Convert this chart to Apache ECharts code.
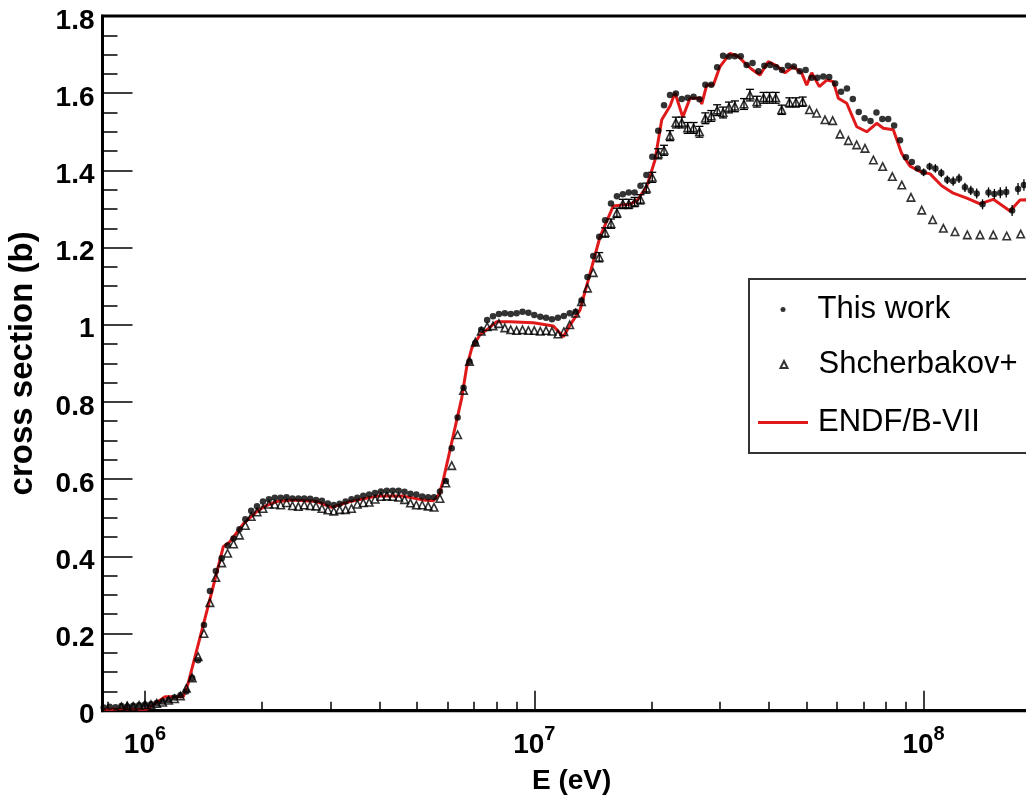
<!DOCTYPE html>
<html>
<head>
<meta charset="utf-8">
<script src="https://cdn.jsdelivr.net/npm/echarts@6/dist/echarts.min.js"></script>
<style>
  html, body { margin: 0; padding: 0; background: #fff; }
  #chart { width: 1026px; height: 798px; }
</style>
</head>
<body>
<div id="chart"></div>
<script>
// "This work" points, energy in eV and cross section in b
const thisWorkE = [
  7.833e5, 8.111e5, 8.399e5, 8.697e5, 9.006e5, 9.326e5, 9.657e5,
  1.000e6, 1.036e6, 1.072e6, 1.110e6, 1.150e6, 1.191e6, 1.233e6, 1.277e6, 1.322e6, 1.369e6,
  1.417e6, 1.468e6, 1.520e6, 1.574e6, 1.630e6, 1.688e6, 1.748e6, 1.810e6, 1.874e6, 1.940e6,
  2.009e6, 2.081e6, 2.154e6, 2.231e6, 2.310e6, 2.392e6, 2.477e6, 2.565e6, 2.656e6, 2.750e6,
  2.848e6, 2.949e6, 3.054e6, 3.162e6, 3.275e6, 3.391e6, 3.511e6, 3.636e6, 3.765e6, 3.899e6,
  4.037e6, 4.180e6, 4.329e6, 4.482e6, 4.642e6, 4.806e6, 4.977e6, 5.154e6, 5.337e6, 5.526e6,
  5.722e6, 5.925e6, 6.136e6, 6.354e6, 6.579e6, 6.813e6, 7.055e6, 7.305e6, 7.565e6, 7.833e6,
  8.111e6, 8.399e6, 8.697e6, 9.006e6, 9.326e6, 9.657e6,
  1.000e7, 1.036e7, 1.072e7, 1.110e7, 1.150e7, 1.191e7, 1.233e7, 1.277e7, 1.322e7, 1.369e7,
  1.417e7, 1.468e7, 1.520e7, 1.574e7, 1.630e7, 1.688e7, 1.748e7, 1.810e7, 1.874e7, 1.940e7,
  2.009e7, 2.081e7, 2.154e7, 2.231e7, 2.310e7, 2.392e7, 2.477e7, 2.565e7, 2.656e7, 2.750e7,
  2.848e7, 2.949e7, 3.054e7, 3.162e7, 3.275e7, 3.391e7, 3.511e7, 3.636e7, 3.765e7, 3.899e7,
  4.037e7, 4.180e7, 4.329e7, 4.482e7, 4.642e7, 4.806e7, 4.977e7, 5.154e7, 5.337e7, 5.526e7,
  5.722e7, 5.925e7, 6.136e7, 6.354e7, 6.579e7, 6.813e7, 7.055e7, 7.305e7, 7.565e7, 7.833e7,
  8.111e7, 8.399e7, 8.697e7, 9.006e7, 9.326e7, 9.657e7,
  1.000e8, 1.036e8, 1.072e8, 1.110e8, 1.150e8, 1.191e8, 1.233e8, 1.277e8, 1.322e8, 1.369e8,
  1.417e8, 1.468e8, 1.520e8, 1.574e8, 1.630e8, 1.688e8, 1.748e8, 1.810e8
];
const thisWorkXS = [
  0.008, 0.010, 0.009, 0.012, 0.011, 0.013, 0.014,
  0.016, 0.017, 0.020, 0.024, 0.028, 0.034, 0.040, 0.050, 0.085, 0.131,
  0.222, 0.310, 0.362, 0.395, 0.428, 0.446, 0.470, 0.496, 0.518, 0.530,
  0.542, 0.548, 0.552, 0.552, 0.553, 0.550, 0.550, 0.550, 0.549, 0.546,
  0.544, 0.537, 0.533, 0.536, 0.542, 0.548, 0.552, 0.557, 0.560, 0.564,
  0.568, 0.570, 0.570, 0.570, 0.567, 0.562, 0.560, 0.555, 0.553, 0.553,
  0.568, 0.595, 0.680, 0.760, 0.837, 0.905, 0.953, 0.987, 1.012, 1.022,
  1.028, 1.030, 1.028, 1.030, 1.034, 1.031,
  1.025, 1.021, 1.018, 1.014, 1.018, 1.023, 1.030, 1.034, 1.063, 1.124,
  1.178, 1.228, 1.271, 1.314, 1.333, 1.338, 1.343, 1.343, 1.360, 1.388,
  1.435, 1.503, 1.569, 1.595, 1.599, 1.585, 1.588, 1.591, 1.584, 1.622,
  1.622, 1.667, 1.697, 1.695, 1.696, 1.696, 1.673, 1.678, 1.657, 1.671,
  1.673, 1.667, 1.660, 1.671, 1.669, 1.657, 1.660, 1.640, 1.640, 1.643,
  1.642, 1.625, 1.604, 1.612, 1.585, 1.551, 1.535, 1.528, 1.550, 1.533,
  1.533, 1.516, 1.478, 1.434, 1.422, 1.405,
  1.395, 1.410, 1.405, 1.393, 1.376, 1.372, 1.379, 1.356, 1.348, 1.340,
  1.312, 1.343, 1.339, 1.342, 1.344, 1.296, 1.352, 1.362
];
// error bars of "This work" that are large enough to be seen (above 100 MeV)
const thisWorkErrE = [
  1.000e8, 1.036e8, 1.072e8, 1.110e8, 1.150e8, 1.191e8, 1.233e8, 1.277e8, 1.322e8, 1.369e8,
  1.417e8, 1.468e8, 1.520e8, 1.574e8, 1.630e8, 1.688e8, 1.748e8, 1.810e8
];
const thisWorkErrXS = [
  1.395, 1.410, 1.405, 1.393, 1.376, 1.372, 1.379, 1.356, 1.348, 1.340,
  1.312, 1.343, 1.339, 1.342, 1.344, 1.296, 1.352, 1.362
];
const thisWorkErr = [
  0.010, 0.010, 0.011, 0.011, 0.011, 0.012, 0.012, 0.012, 0.012, 0.013,
  0.013, 0.013, 0.013, 0.014, 0.014, 0.014, 0.015, 0.015
];

// Shcherbakov+ points
const shchE = [
  8.697e5, 9.006e5, 9.326e5, 9.657e5,
  1.000e6, 1.036e6, 1.072e6, 1.110e6, 1.150e6, 1.191e6, 1.233e6, 1.277e6, 1.322e6, 1.369e6,
  1.417e6, 1.468e6, 1.520e6, 1.574e6, 1.630e6, 1.688e6, 1.748e6, 1.810e6, 1.874e6, 1.940e6,
  2.009e6, 2.081e6, 2.154e6, 2.231e6, 2.310e6, 2.392e6, 2.477e6, 2.565e6, 2.656e6, 2.750e6,
  2.848e6, 2.949e6, 3.054e6, 3.162e6, 3.275e6, 3.391e6, 3.511e6, 3.636e6, 3.765e6, 3.899e6,
  4.037e6, 4.180e6, 4.329e6, 4.482e6, 4.642e6, 4.806e6, 4.977e6, 5.154e6, 5.337e6, 5.526e6,
  5.722e6, 5.925e6, 6.136e6, 6.354e6, 6.579e6, 6.813e6, 7.055e6, 7.305e6, 7.565e6, 7.833e6,
  8.111e6, 8.399e6, 8.697e6, 9.006e6, 9.326e6, 9.657e6,
  1.000e7, 1.036e7, 1.072e7, 1.110e7, 1.150e7, 1.191e7, 1.233e7, 1.277e7, 1.322e7, 1.369e7,
  1.417e7, 1.468e7, 1.520e7, 1.574e7, 1.630e7, 1.688e7, 1.748e7, 1.810e7, 1.874e7, 1.940e7,
  2.009e7, 2.081e7, 2.154e7, 2.231e7, 2.310e7, 2.392e7, 2.477e7, 2.565e7, 2.656e7, 2.750e7,
  2.848e7, 2.949e7, 3.054e7, 3.162e7, 3.275e7,
  3.456e7, 3.58e7, 3.73e7, 3.88e7, 4.02e7, 4.17e7, 4.32e7, 4.52e7, 4.70e7, 4.89e7,
  5.09e7, 5.31e7, 5.58e7, 5.84e7, 6.10e7, 6.41e7, 6.73e7, 7.07e7, 7.43e7, 7.85e7,
  8.31e7, 8.79e7, 9.28e7, 9.89e7, 1.055e8, 1.124e8, 1.204e8, 1.295e8, 1.396e8, 1.51e8,
  1.635e8, 1.776e8
];
const shchXS = [
  0.010, 0.012, 0.011, 0.014,
  0.015, 0.016, 0.019, 0.022, 0.027, 0.031, 0.038, 0.058, 0.085, 0.140,
  0.200, 0.280, 0.345, 0.383, 0.408, 0.432, 0.455, 0.480, 0.503, 0.515,
  0.524, 0.535, 0.535, 0.533, 0.539, 0.531, 0.529, 0.533, 0.531, 0.530,
  0.524, 0.520, 0.517, 0.521, 0.521, 0.524, 0.535, 0.539, 0.540, 0.548,
  0.555, 0.556, 0.555, 0.553, 0.547, 0.538, 0.533, 0.533, 0.530, 0.527,
  0.550, 0.590, 0.635, 0.715, 0.830, 0.905, 0.955, 0.983, 0.995, 0.997,
  1.003, 0.992, 0.987, 0.985, 0.987, 0.985,
  0.985, 0.983, 0.985, 0.983, 0.976, 0.982, 1.000, 1.030, 1.060, 1.095,
  1.135, 1.175, 1.239, 1.262, 1.290, 1.313, 1.313, 1.318, 1.325, 1.354,
  1.382, 1.443, 1.452, 1.490, 1.524, 1.524, 1.510, 1.510, 1.500, 1.535,
  1.541, 1.556, 1.550, 1.563, 1.566,
  1.572, 1.595, 1.578, 1.588, 1.588, 1.588, 1.557, 1.576, 1.576, 1.578,
  1.557, 1.548, 1.531, 1.529, 1.494, 1.477, 1.466, 1.457, 1.427, 1.410,
  1.384, 1.362, 1.330, 1.297, 1.272, 1.250, 1.241, 1.233, 1.233, 1.233,
  1.230, 1.235
];
// error bars with caps on Shcherbakov+ points between ~15 and ~50 MeV
const shchErrE = [
  1.468e7, 1.520e7, 1.574e7, 1.630e7, 1.688e7, 1.748e7, 1.810e7, 1.874e7, 1.940e7, 2.009e7,
  2.081e7, 2.154e7, 2.231e7, 2.310e7, 2.392e7, 2.477e7, 2.565e7, 2.656e7, 2.750e7, 2.848e7,
  2.949e7, 3.054e7, 3.162e7, 3.275e7, 3.456e7, 3.58e7, 3.73e7, 3.88e7, 4.02e7, 4.17e7,
  4.32e7, 4.52e7, 4.70e7, 4.89e7
];
const shchErrXS = [
  1.175, 1.239, 1.262, 1.290, 1.313, 1.313, 1.318, 1.325, 1.354, 1.382,
  1.443, 1.452, 1.490, 1.524, 1.524, 1.510, 1.510, 1.500, 1.535, 1.541,
  1.556, 1.550, 1.563, 1.566, 1.572, 1.595, 1.578, 1.588, 1.588, 1.588,
  1.557, 1.576, 1.576, 1.578
];
const shchErr = [
  0.012, 0.012, 0.012, 0.012, 0.012, 0.012, 0.012, 0.012, 0.013, 0.013,
  0.013, 0.013, 0.013, 0.014, 0.014, 0.014, 0.014, 0.014, 0.014, 0.014,
  0.014, 0.014, 0.014, 0.014, 0.014, 0.015, 0.014, 0.014, 0.014, 0.014,
  0.012, 0.012, 0.012, 0.012
];

// ENDF/B-VII evaluation
const endfE = [
  7.83e5, 1.010e6, 1.126e6, 1.254e6, 1.290e6, 1.478e6, 1.589e6, 1.653e6, 1.788e6, 1.936e6,
  2.034e6, 2.180e6, 2.404e6, 2.761e6, 3.017e6, 3.362e6, 3.937e6, 4.608e6, 5.187e6, 5.502e6,
  5.701e6, 5.837e6, 6.074e6, 6.320e6, 6.509e6, 6.705e6, 6.906e6, 7.253e6, 7.618e6, 8.006e6,
  8.664e6, 9.941e6, 1.119e7, 1.187e7, 1.235e7, 1.310e7, 1.376e7, 1.475e7, 1.596e7, 1.677e7,
  1.761e7, 1.839e7, 1.944e7, 2.042e7, 2.125e7, 2.232e7, 2.299e7, 2.406e7, 2.512e7, 2.665e7,
  2.692e7, 2.772e7, 2.883e7, 2.999e7, 3.182e7, 3.342e7, 3.477e7, 3.618e7, 3.800e7, 3.991e7,
  4.195e7, 4.406e7, 4.628e7, 4.863e7, 5.009e7, 5.160e7, 5.397e7, 5.638e7, 5.863e7, 6.039e7,
  6.346e7, 6.733e7, 7.142e7, 7.577e7, 7.879e7, 8.359e7, 8.784e7, 9.226e7, 9.789e7, 1.039e8,
  1.113e8, 1.192e8, 1.291e8, 1.396e8, 1.510e8, 1.667e8, 1.769e8, 2.000e8
];
const endfXS = [
  0.004, 0.004, 0.036, 0.036, 0.070, 0.300, 0.425, 0.438, 0.484, 0.516,
  0.530, 0.542, 0.546, 0.542, 0.527, 0.542, 0.556, 0.556, 0.546, 0.544,
  0.561, 0.598, 0.675, 0.753, 0.810, 0.891, 0.939, 0.974, 0.990, 1.008,
  1.008, 1.005, 0.997, 0.969, 0.999, 1.038, 1.116, 1.228, 1.308, 1.310,
  1.312, 1.323, 1.358, 1.427, 1.531, 1.567, 1.601, 1.538, 1.587, 1.587,
  1.572, 1.621, 1.621, 1.669, 1.703, 1.695, 1.678, 1.662, 1.647, 1.682,
  1.671, 1.653, 1.669, 1.652, 1.621, 1.653, 1.617, 1.634, 1.630, 1.587,
  1.574, 1.513, 1.500, 1.522, 1.509, 1.505, 1.444, 1.411, 1.397, 1.391,
  1.360, 1.341, 1.328, 1.313, 1.325, 1.295, 1.323, 1.325
];

const xMajorTicks = [1e6, 1e7, 1e8];
const xMinorTicks = [
  8e5, 9e5, 2e6, 3e6, 4e6, 5e6, 6e6, 7e6, 8e6, 9e6,
  2e7, 3e7, 4e7, 5e7, 6e7, 7e7, 8e7, 9e7, 2e8
];

const X_MIN = 7.777e5;
const X_MAX = 2e8;
const RED = '#e0191b';
const FONT = 'Liberation Sans';

const chart = echarts.init(document.getElementById('chart'), null, { renderer: 'canvas' });

const pairs = (xs, ys) => xs.map((x, i) => [x, ys[i]]);
const triples = (xs, ys, es) => xs.map((x, i) => [x, ys[i], es[i]]);

// vertical error bar, optional caps
function errorBar(capHalf, width) {
  return function (params, api) {
    const x = api.value(0), y = api.value(1), e = api.value(2);
    const lo = api.coord([x, y - e]);
    const hi = api.coord([x, y + e]);
    const style = { stroke: '#000', lineWidth: width };
    const children = [
      { type: 'line', shape: { x1: lo[0], y1: lo[1], x2: hi[0], y2: hi[1] }, style: style },
    ];
    if (capHalf > 0) {
      children.push({ type: 'line', shape: { x1: lo[0] - capHalf, y1: lo[1], x2: lo[0] + capHalf, y2: lo[1] }, style: style });
      children.push({ type: 'line', shape: { x1: hi[0] - capHalf, y1: hi[1], x2: hi[0] + capHalf, y2: hi[1] }, style: style });
    }
    return { type: 'group', children: children };
  };
}

const baseX = {
  type: 'log',
  logBase: 10,
  min: X_MIN,
  max: X_MAX,
  position: 'bottom',
  splitLine: { show: false },
  minorTick: { show: false },
};

const legendText = { fontFamily: FONT, fontSize: 31, color: '#000' };

chart.setOption({
  animation: false,
  backgroundColor: '#fff',
  textStyle: { fontFamily: FONT },
  grid: {
    left: 102.5, top: 16, right: -14.8, bottom: 87.3,
    show: true, borderColor: '#000', borderWidth: 3,
    outerBoundsMode: 'none',
    containLabel: false,
  },
  graphic: [{
    type: 'rect',
    left: 748, top: 278,
    shape: { width: 320, height: 174 },
    style: { fill: '#fff', stroke: '#333', lineWidth: 2 },
    z: 5,
  }],
  legend: [
    {
      left: 780.5, top: 294, padding: 0, z: 10,
      itemWidth: 5, itemHeight: 5,
      textStyle: Object.assign({ padding: [0, 0, 0, 27] }, legendText),
      data: ['This work'],
    },
    {
      left: 779.5, top: 349, padding: 0, z: 10,
      itemWidth: 7, itemHeight: 7,
      textStyle: Object.assign({ padding: [0, 0, 0, 26] }, legendText),
      data: ['Shcherbakov+'],
    },
    {
      left: 758, top: 407, padding: 0, z: 10,
      itemWidth: 50, itemHeight: 3,
      textStyle: Object.assign({ padding: [0, 0, 0, 5] }, legendText),
      data: [{ name: 'ENDF/B-VII', icon: 'rect' }],
    },
  ],
  xAxis: [
    Object.assign({}, baseX, {
      name: 'E (eV)',
      nameLocation: 'middle',
      nameGap: 57,
      nameTextStyle: { fontSize: 28, fontWeight: 'bold', color: '#000', fontFamily: FONT },
      axisLine: { show: true, lineStyle: { color: '#000', width: 3 } },
      axisTick: { show: true, inside: true, length: 20, customValues: xMajorTicks, lineStyle: { color: '#000', width: 1.5 } },
      axisLabel: {
        show: true,
        customValues: xMajorTicks,
        margin: 14,
        formatter: (v) => {
          const p = v > 100 ? Math.round(Math.log10(v)) : Math.round(v);
          return '{b|10}{s|' + p + '}';
        },
        rich: {
          b: { fontSize: 28, fontWeight: 'bold', color: '#000', fontFamily: FONT },
          s: { fontSize: 20, fontWeight: 'bold', color: '#000', fontFamily: FONT, padding: [0, 0, 21, 0] },
        },
      },
    }),
    Object.assign({}, baseX, {
      axisLine: { show: false },
      axisLabel: { show: false },
      axisTick: { show: true, inside: true, length: 9, customValues: xMinorTicks, lineStyle: { color: '#000', width: 1.5 } },
    }),
  ],
  yAxis: {
    type: 'value',
    min: 0,
    max: 1.8,
    interval: 0.2,
    name: 'cross section (b)',
    nameLocation: 'middle',
    nameRotate: 90,
    nameGap: 63,
    nameTextStyle: { fontSize: 33, fontWeight: 'bold', color: '#000', fontFamily: FONT },
    splitLine: { show: false },
    axisLine: { show: true, lineStyle: { color: '#000', width: 3 } },
    axisTick: { show: true, inside: true, length: 30, lineStyle: { color: '#000', width: 1.5 } },
    minorTick: { show: true, splitNumber: 4, length: 15, lineStyle: { color: '#000', width: 1.5 } },
    axisLabel: {
      margin: 8,
      formatter: (v) => '{t|' + v + '}',
      rich: { t: { fontSize: 28, fontWeight: 'bold', color: '#000', fontFamily: FONT, padding: [10, 0, 0, 0] } },
    },
  },
  series: [
    {
      name: 'ENDF/B-VII',
      type: 'line',
      xAxisIndex: 0,
      data: pairs(endfE, endfXS),
      symbol: 'none',
      lineStyle: { color: RED, width: 3 },
      itemStyle: { color: RED },
      z: 2,
    },
    {
      name: 'Shcherbakov+ errors',
      type: 'custom',
      xAxisIndex: 0,
      data: triples(shchErrE, shchErrXS, shchErr),
      renderItem: errorBar(4, 1.3),
      z: 3,
    },
    {
      name: 'Shcherbakov+',
      type: 'scatter',
      xAxisIndex: 0,
      data: pairs(shchE, shchXS),
      symbol: 'triangle',
      symbolSize: 7.5,
      itemStyle: { color: 'rgba(255,255,255,0)', borderColor: '#000', borderWidth: 1.6 },
      z: 3,
    },
    {
      name: 'This work errors',
      type: 'custom',
      xAxisIndex: 0,
      data: triples(thisWorkErrE, thisWorkErrXS, thisWorkErr),
      renderItem: errorBar(0, 1.3),
      z: 4,
    },
    {
      name: 'This work',
      type: 'scatter',
      xAxisIndex: 0,
      data: pairs(thisWorkE, thisWorkXS),
      symbol: 'circle',
      symbolSize: 6.5,
      itemStyle: { color: '#000' },
      z: 4,
    },
  ],
});
</script>
</body>
</html>
